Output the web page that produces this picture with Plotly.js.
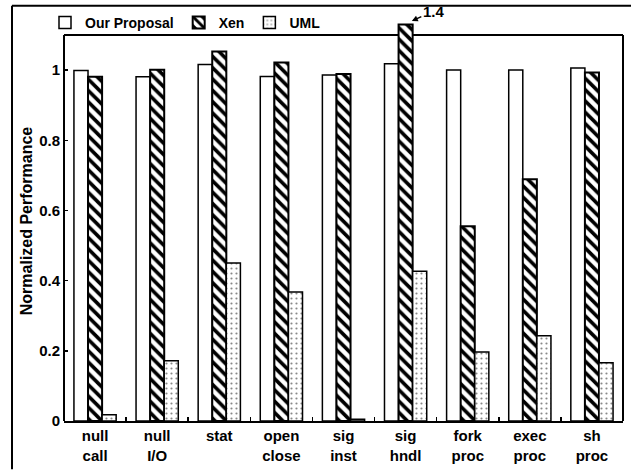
<!DOCTYPE html>
<html>
<head>
<meta charset="utf-8">
<script src="https://cdn.plot.ly/plotly-3.0.1.min.js"></script>
<style>
html,body{margin:0;padding:0;background:#fff;}
#chart{width:631px;height:470px;}
</style>
</head>
<body>
<div id="chart"></div>
<script>
// ---- data ----
var categories = ["null<br>call","null<br>I/O","stat","open<br>close","sig<br>inst","sig<br>hndl","fork<br>proc","exec<br>proc","sh<br>proc"];
var ourProposal = [0.999, 0.981, 1.016, 0.982, 0.986, 1.018, 1.0, 1.0, 1.006];
var xen         = [0.981, 1.001, 1.053, 1.022, 0.989, 1.4, 0.555, 0.689, 0.993];
var uml         = [0.018, 0.172, 0.450, 0.368, 0.005, 0.427, 0.197, 0.243, 0.166];
var seriesNames = ["Our Proposal", "Xen", "UML"];
var xenCap = 1.13;           // the figure truncates bars above this height
var truncatedLabel = "1.4";
var yTicks = [0, 0.2, 0.4, 0.6, 0.8, 1];
var yTickText = ["0", "0.2", "0.4", "0.6", "0.8", "1"];
var frameTop = 1.10;         // top of the drawn plot frame
var yMax = 1.14;             // axis range top (leaves room for the truncated bar)

// ---- layout constants ----
var W = 631, H = 470;
var PXPERUNIT = 352;
var M = {l: 64, r: 8, b: 48.5};
M.t = H - M.b - yMax * PXPERUNIT;
var pw = W - M.l - M.r, ph = H - M.t - M.b;
function px2x(p){ return (p - M.l) / pw; }
function py2y(p){ return (H - M.b - p) / ph; }

var FAM = "Liberation Sans, Arial, sans-serif";
var font = {family: FAM, size: 14, color: "#000", weight: "bold"};
var outline = {color: "#000", width: 1.5};

var xenShown = xen.map(function(v){ return Math.min(v, xenCap); });

var traces = [
  {type: "bar", name: seriesNames[0], x: categories, y: ourProposal,
   marker: {color: "#fff", line: outline}, hoverinfo: "y"},
  {type: "bar", name: seriesNames[1], x: categories, y: xenShown,
   customdata: xen,
   marker: {color: "#fff", line: {color: "#000", width: 2},
            pattern: {shape: "\\", size: 8, solidity: 0.45, fgcolor: "#000", bgcolor: "#fff"}},
   hovertemplate: "%{customdata}<extra></extra>"},
  {type: "bar", name: seriesNames[2], x: categories, y: uml,
   marker: {color: "#fff", line: outline,
            pattern: {shape: ".", size: 5, solidity: 0.15, fgcolor: "#888", bgcolor: "#fff"}},
   hoverinfo: "y"}
];

var capIdx = xen.findIndex(function(v){ return v > xenCap; });
var frameLine = {color: "#000", width: 2};

var layout = {
  width: W, height: H,
  margin: M,
  paper_bgcolor: "#fff", plot_bgcolor: "#fff",
  font: font,
  barmode: "group",
  bargap: 0.32, bargroupgap: 0,
  showlegend: true,
  legend: {orientation: "h", x: px2x(45), y: py2y(7), xanchor: "left", yanchor: "top",
           font: {family: FAM, size: 14, weight: "bold", color: "#000"},
           itemwidth: 30, tracegroupgap: 0, bgcolor: "rgba(0,0,0,0)"},
  xaxis: {
    type: "category", showline: true, linecolor: "#000", linewidth: 2, mirror: false,
    ticks: "inside", ticklen: 4, tickwidth: 1.5, tickcolor: "#000", tickson: "boundaries",
    tickfont: {family: FAM, size: 15, weight: "bold", color: "#000"},
    showgrid: false, zeroline: false, layer: "below traces", fixedrange: true
  },
  yaxis: {
    range: [0, yMax], showline: false,
    ticks: "inside", ticklen: 4, tickwidth: 1.5, tickcolor: "#000",
    tickvals: yTicks, ticktext: yTickText,
    tickfont: {family: FAM, size: 15, weight: "bold", color: "#000"},
    ticklabelstandoff: 3,
    showgrid: false, zeroline: false, layer: "below traces", fixedrange: true,
    title: {text: "Normalized Performance", font: {family: FAM, size: 16, weight: "bold", color: "#000"}, standoff: 2}
  },
  annotations: [{
    xref: "x", yref: "y", x: capIdx + 0.1, y: xenCap + 0.01,
    text: truncatedLabel, showarrow: true, arrowhead: 2, arrowsize: 0.8, arrowwidth: 1.5,
    arrowcolor: "#000", ax: 22, ay: -10,
    font: {family: FAM, size: 15, weight: "bold", color: "#000"}
  }],
  shapes: [
    // plot frame (left, top, right) drawn beneath the bars
    {type: "line", layer: "below", xref: "paper", yref: "y", x0: 0, x1: 0, y0: 0, y1: frameTop, line: frameLine},
    {type: "line", layer: "below", xref: "paper", yref: "y", x0: 0, x1: 1, y0: frameTop, y1: frameTop, line: frameLine},
    {type: "line", layer: "below", xref: "paper", yref: "y", x0: 1, x1: 1, y0: 0, y1: frameTop, line: frameLine},
    // outer figure border
    {type: "line", xref: "paper", yref: "paper", x0: px2x(12), x1: px2x(12), y0: py2y(5), y1: py2y(470), line: frameLine},
    {type: "line", xref: "paper", yref: "paper", x0: px2x(12), x1: px2x(631), y0: py2y(5), y1: py2y(5), line: frameLine}
  ]
};

Plotly.newPlot("chart", traces, layout, {displayModeBar: false, staticPlot: true});
</script>
</body>
</html>
